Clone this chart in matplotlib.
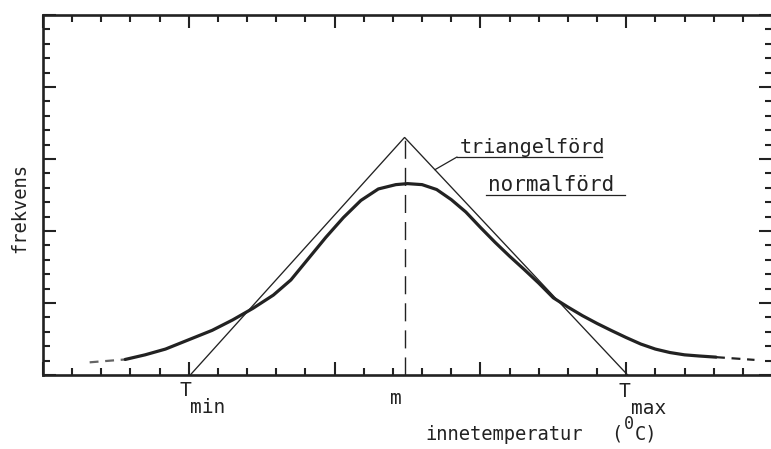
import matplotlib
matplotlib.use("Agg")
import matplotlib.pyplot as plt
from matplotlib.ticker import MultipleLocator

# ---- data (axis units = minor tick divisions) ----
T_min = 5.05
m_val = 12.4
T_max = 20.05
tri_peak = 16.5

tri_x = [T_min, m_val, T_max]
tri_y = [0.0, tri_peak, 0.0]

norm_x = [2.82, 3.5, 4.2, 5.0, 5.8, 6.5, 7.2, 7.9, 8.5, 9.1, 9.7, 10.3, 10.9,
          11.5, 12.1, 12.5, 13.0, 13.5, 14.0, 14.5, 15.0, 15.5, 16.0, 16.5,
          17.0, 17.5, 18.0, 18.5, 19.0, 19.5, 20.0, 20.5, 21.0, 21.5, 22.0,
          22.5, 23.08]
norm_y = [1.08, 1.40, 1.80, 2.45, 3.10, 3.82, 4.63, 5.55, 6.60, 8.08, 9.56,
          10.93, 12.12, 12.92, 13.22, 13.29, 13.22, 12.88, 12.18, 11.32, 10.25,
          9.22, 8.25, 7.33, 6.38, 5.36, 4.72, 4.12, 3.58, 3.08, 2.60, 2.15,
          1.80, 1.56, 1.40, 1.32, 1.24]

tail_left_x = [1.60, 2.82]
tail_left_y = [0.88, 1.08]
tail_right_x = [23.08, 24.40]
tail_right_y = [1.24, 1.05]

x_range = (0, 25)
y_range = (0, 25)

label_tri = "triangelförd"
label_norm = "normalförd"
x_label = "innetemperatur"
y_label = "frekvens"

INK = "#222222"
MONO = "DejaVu Sans Mono"

W, H = 771, 449
fig = plt.figure(figsize=(W / 100, H / 100), dpi=100)
fig.patch.set_facecolor("white")

L, R, T, B = 43, 772, 15, 375
ax = fig.add_axes([L / W, (H - B) / H, (R - L) / W, (B - T) / H])
ax.set_xlim(*x_range)
ax.set_ylim(*y_range)

for s in ax.spines.values():
    s.set_linewidth(1.9)
    s.set_color(INK)
ax.spines["right"].set_visible(False)

ax.xaxis.set_major_locator(MultipleLocator(5))
ax.xaxis.set_minor_locator(MultipleLocator(1))
ax.yaxis.set_major_locator(MultipleLocator(5))
ax.yaxis.set_minor_locator(MultipleLocator(1))
ax.tick_params(which="both", direction="in", top=True, right=True,
               labelbottom=False, labelleft=False, color=INK, width=1.5)
ax.tick_params(which="major", length=9.5)
ax.tick_params(which="minor", length=5)

# triangle distribution
ax.plot(tri_x, tri_y, color=INK, lw=0.95, solid_joinstyle="miter")
# normal distribution
ax.plot(norm_x, norm_y, color=INK, lw=2.3, solid_capstyle="round",
        solid_joinstyle="round")
ax.plot(tail_left_x, tail_left_y, color=INK, lw=1.6, dashes=(4, 3), alpha=0.7)
ax.plot(tail_right_x, tail_right_y, color=INK, lw=1.6, dashes=(4, 3))
# vertical dashed line at m
ax.plot([m_val, m_val], [0, tri_peak], color=INK, lw=1.0, dashes=(13, 6.5))

# labels under the axis
fs = 14
def lab(txt, xv, dx, dy, size=fs):
    ax.annotate(txt, xy=(xv, 0), xytext=(dx, dy), textcoords="offset pixels",
                ha="left", va="baseline", fontsize=size, family=MONO, color=INK,
                annotation_clip=False)

lab("T", T_min, -11, -21)
lab("min", T_min, 0, -38)
lab("m", m_val, -15, -29)
lab("T", T_max, -9, -22)
lab("max", T_max, 3, -39)

# x axis title
fig.text(425 / W, (H - 440) / H, x_label, fontsize=13.5, family=MONO,
         color=INK, ha="left", va="baseline")
fig.text(611 / W, (H - 440) / H, "(", fontsize=13.5, family=MONO,
         color=INK, ha="left", va="baseline")
fig.text(635 / W, (H - 440) / H, "C)", fontsize=13.5, family=MONO,
         color=INK, ha="left", va="baseline")
fig.text(624 / W, (H - 429) / H, "0", fontsize=12, family=MONO,
         color=INK, ha="left", va="baseline")

# y axis title
fig.text(20 / W, (H - 208) / H, y_label, fontsize=13.5, family=MONO,
         color=INK, ha="center", va="center", rotation=90)

# curve labels with underline / leader
def axf(px, py):
    return ((px - L) / (R - L), (B - py) / (B - T))

x_lead = 13.44
y_lead = tri_peak * (T_max - x_lead) / (T_max - m_val)
tx, ty = axf(460, 153)
ax.text(tx, ty, label_tri, transform=ax.transAxes, fontsize=14.5,
        family=MONO, color=INK, ha="left", va="baseline")
u0 = axf(457, 157)
u1 = axf(602, 157)
ax.plot([u0[0], u1[0]], [u0[1], u1[1]], transform=ax.transAxes,
        color=INK, lw=0.9, clip_on=False)
ax.annotate("", xy=(x_lead, y_lead), xytext=u0, textcoords="axes fraction",
            arrowprops=dict(arrowstyle="-", color=INK, lw=0.9,
                            shrinkA=0, shrinkB=0))

nx, ny = axf(488, 191)
ax.text(nx, ny, label_norm, transform=ax.transAxes, fontsize=15,
        family=MONO, color=INK, ha="left", va="baseline")
v0 = axf(486, 195)
v1 = axf(625, 195)
ax.plot([v0[0], v1[0]], [v0[1], v1[1]], transform=ax.transAxes,
        color=INK, lw=0.9, clip_on=False)

fig.savefig("out.png", dpi=100, facecolor="white")
